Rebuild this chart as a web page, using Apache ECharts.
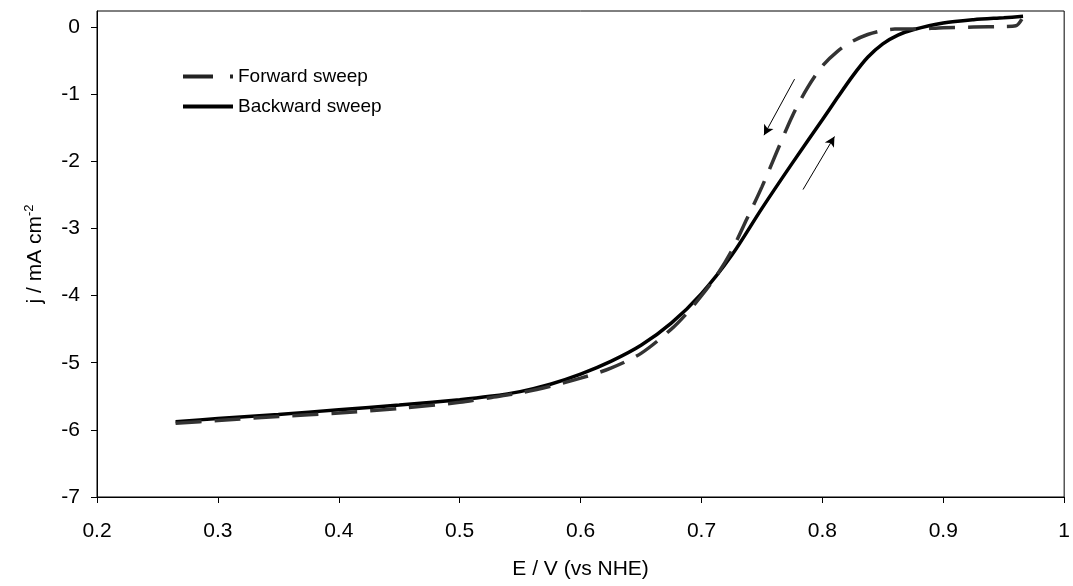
<!DOCTYPE html>
<html>
<head>
<meta charset="utf-8">
<script src="https://cdn.jsdelivr.net/npm/echarts@6/dist/echarts.min.js"></script>
<style>html,body{margin:0;padding:0;background:#fff;}#c{width:1073px;height:586px;}</style>
</head>
<body>
<div id="c"></div>
<script>
// Data
const forwardE = [0.265,0.3,0.35,0.4,0.45,0.5,0.525,0.55,0.575,0.6,0.625,0.65,0.675,0.6875,0.7,0.7125,0.725,0.7375,0.75,0.7625,0.775,0.7875,0.8,0.8125,0.825,0.8375,0.85,0.86,0.875,0.9,0.925,0.95,0.96,0.965];
const forwardJ = [-5.9,-5.86,-5.8,-5.75,-5.68,-5.59,-5.52,-5.45,-5.35,-5.23,-5.08,-4.86,-4.5,-4.27,-4.0,-3.7,-3.33,-2.86,-2.38,-1.85,-1.33,-0.91,-0.58,-0.36,-0.21,-0.11,-0.05,-0.03,-0.03,-0.01,0.0,0.01,0.02,0.12];
const backwardE = [0.265,0.3,0.35,0.4,0.45,0.5,0.525,0.55,0.575,0.6,0.625,0.65,0.675,0.7,0.725,0.75,0.775,0.8,0.8125,0.825,0.8375,0.85,0.8625,0.875,0.9,0.925,0.95,0.966];
const backwardJ = [-5.88,-5.83,-5.77,-5.7,-5.63,-5.55,-5.5,-5.43,-5.32,-5.17,-4.98,-4.74,-4.41,-3.97,-3.4,-2.7,-2.03,-1.38,-1.05,-0.73,-0.45,-0.25,-0.12,-0.04,0.06,0.11,0.14,0.16];
const xTicks = [0.2,0.3,0.4,0.5,0.6,0.7,0.8,0.9,1];
const yTicks = [-7,-6,-5,-4,-3,-2,-1,0];
const seriesNames = ['Forward sweep','Backward sweep'];
// arrows: [start, end] in data coordinates
const arrowDown = [[0.777,-0.775],[0.7517,-1.61]];
const arrowUp = [[0.784,-2.42],[0.81,-1.63]];

const zip = (a,b)=>a.map((v,i)=>[v,b[i]]);
const FONT = 'Liberation Sans, Arial, sans-serif';
const FS = 21;

const chart = echarts.init(document.getElementById('c'));
chart.setOption({
  animation:false,
  backgroundColor:'#fff',
  grid:{left:97,right:5,top:11,bottom:89,show:true,borderColor:'#000',borderWidth:1},
  legend:{
    orient:'vertical',left:176,top:62,itemWidth:50,itemHeight:4,itemGap:11,
    itemStyle:{opacity:0},
    data:[
      {name:seriesNames[0],lineStyle:{width:4,color:'#222',type:[30,17]}},
      {name:seriesNames[1],lineStyle:{width:4,color:'#000',type:'solid'}}
    ],
    textStyle:{fontFamily:FONT,fontSize:19,color:'#000'}
  },
  xAxis:{
    type:'value',min:0.2,max:1,interval:0.1,
    name:'E / V (vs NHE)',nameLocation:'middle',nameGap:62,
    nameTextStyle:{fontFamily:FONT,fontSize:FS,color:'#000'},
    axisLine:{onZero:false,lineStyle:{color:'#000',width:1}},
    axisTick:{show:true,inside:false,length:6,lineStyle:{color:'#000'}},
    axisLabel:{fontFamily:FONT,fontSize:FS,color:'#000',margin:24,formatter:v=>String(+v.toFixed(1))},
    splitLine:{show:false}
  },
  yAxis:{
    type:'value',min:-7,max:0.24,interval:1,
    name:'{n|j / mA cm}{s|-2}',nameLocation:'middle',nameGap:49,nameRotate:90,
    nameTextStyle:{rich:{n:{fontFamily:FONT,fontSize:FS,color:'#000'},s:{fontFamily:FONT,fontSize:13,color:'#000',verticalAlign:'top',padding:[0,0,12,0]}}},
    axisLine:{onZero:false,lineStyle:{color:'#000',width:1}},
    axisTick:{show:true,inside:false,length:6,lineStyle:{color:'#000'},customValues:yTicks},
    axisLabel:{fontFamily:FONT,fontSize:FS,color:'#000',margin:17,customValues:yTicks},
    splitLine:{show:false}
  },
  series:[
    {
      name:seriesNames[0],type:'line',data:zip(forwardE,forwardJ),showSymbol:false,symbol:'none',smooth:0.3,
      lineStyle:{color:'#333',width:3.5,type:[26,13]},itemStyle:{color:'#333'},z:3,
      markLine:{
        silent:true,symbol:['none','arrow'],symbolSize:[8,10],
        label:{show:false},
        lineStyle:{color:'#000',width:1,type:'solid'},
        data:[
          [{coord:arrowDown[0]},{coord:arrowDown[1]}],
          [{coord:arrowUp[0]},{coord:arrowUp[1]}]
        ]
      }
    },
    {
      name:seriesNames[1],type:'line',data:zip(backwardE,backwardJ),showSymbol:false,symbol:'none',smooth:0.3,
      lineStyle:{color:'#000',width:3.5},itemStyle:{color:'#000'},z:2
    }
  ]
});
</script>
</body>
</html>
